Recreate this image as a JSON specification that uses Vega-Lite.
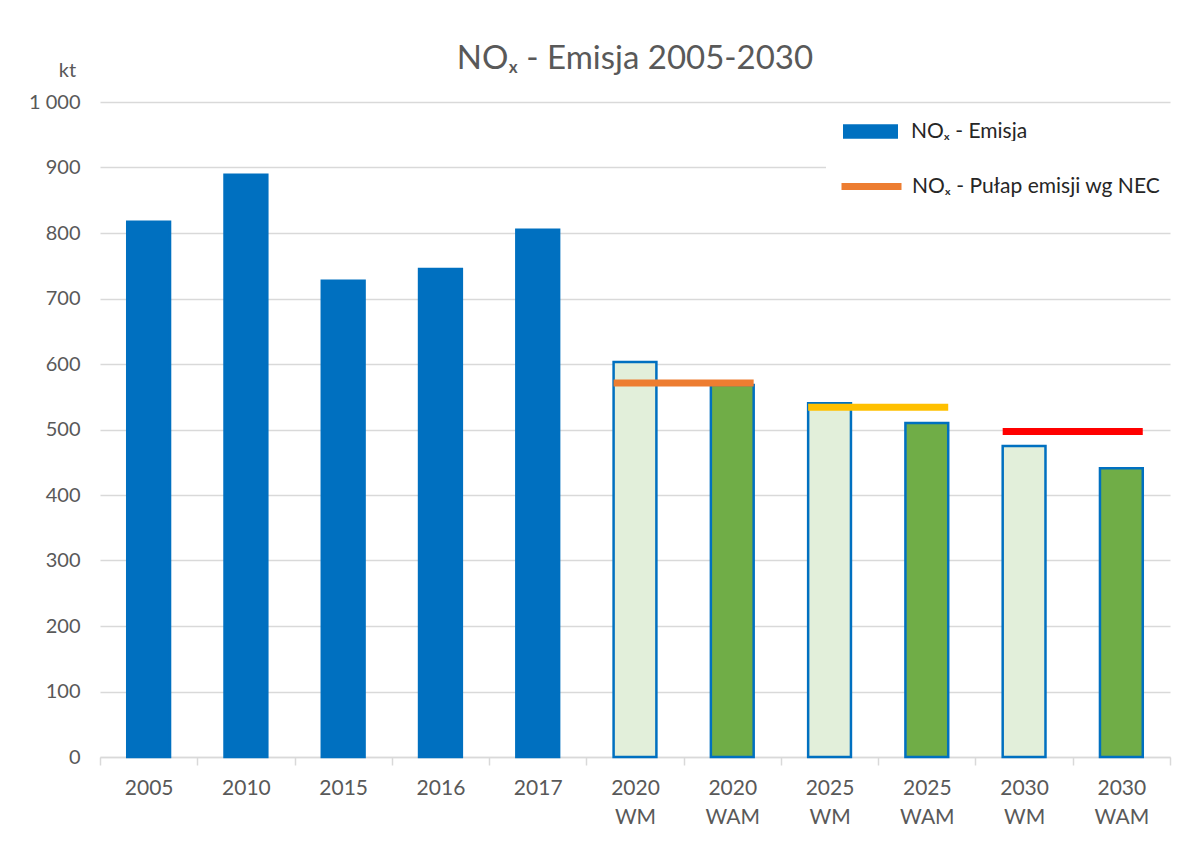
{
  "$schema": "https://vega.github.io/schema/vega-lite/v6.json",
  "width": 1070,
  "height": 655,
  "autosize": {"type": "none"},
  "padding": {"left": 100, "top": 102, "right": 33, "bottom": 88},
  "background": "white",
  "config": {
    "view": {"stroke": null},
    "font": "Lato"
  },
  "title": {
    "text": "NOₓ - Emisja 2005-2030",
    "fontSize": 33,
    "font": "Lato",
    "fontWeight": "normal",
    "color": "#595959",
    "anchor": "middle",
    "baseline": "alphabetic",
    "offset": 30,
    "dy": 72
  },
  "datasets": {
    "emisja": [
      {"kat": "2005", "typ": "NOₓ - Emisja", "emisja": 817},
      {"kat": "2010", "typ": "NOₓ - Emisja", "emisja": 889},
      {"kat": "2015", "typ": "NOₓ - Emisja", "emisja": 727},
      {"kat": "2016", "typ": "NOₓ - Emisja", "emisja": 745},
      {"kat": "2017", "typ": "NOₓ - Emisja", "emisja": 805},
      {"kat": "2020 WM", "typ": "WM", "emisja": 603},
      {"kat": "2020 WAM", "typ": "WAM", "emisja": 568},
      {"kat": "2025 WM", "typ": "WM", "emisja": 540},
      {"kat": "2025 WAM", "typ": "WAM", "emisja": 510},
      {"kat": "2030 WM", "typ": "WM", "emisja": 475},
      {"kat": "2030 WAM", "typ": "WAM", "emisja": 441}
    ],
    "pulap": [
      {"start": "2020 WM", "end": "2020 WAM", "pulap": 571, "limit": "NOₓ - Pułap emisji wg NEC"},
      {"start": "2025 WM", "end": "2025 WAM", "pulap": 534, "limit": "2025"},
      {"start": "2030 WM", "end": "2030 WAM", "pulap": 497, "limit": "2030"}
    ]
  },
  "layer": [
    {
      "data": {"name": "emisja"},
      "mark": {"type": "bar", "width": {"band": 0.44}, "stroke": "#0070C0", "strokeWidth": 2.5},
      "encoding": {
        "x": {
          "field": "kat",
          "type": "nominal",
          "sort": null,
          "scale": {
            "domain": ["2005", "2010", "2015", "2016", "2017", "2020 WM", "2020 WAM", "2025 WM", "2025 WAM", "2030 WM", "2030 WAM"],
            "paddingInner": 0,
            "paddingOuter": 0
          },
          "axis": {
            "title": null,
            "labelAngle": 0,
            "labelExpr": "split(datum.label, ' ')",
            "labelFontSize": 21,
            "labelColor": "#595959",
            "labelPadding": 12,
            "labelLineHeight": 29,
            "labelBaseline": "top",
            "domainColor": "#D9D9D9",
            "domainWidth": 1.5,
            "tickColor": "#D9D9D9",
            "tickWidth": 1.5,
            "tickSize": 8,
            "tickBand": "extent",
            "grid": false
          }
        },
        "y": {
          "field": "emisja",
          "type": "quantitative",
          "scale": {"domain": [0, 1000], "nice": false},
          "axis": {
            "values": [0, 100, 200, 300, 400, 500, 600, 700, 800, 900, 1000],
            "labelExpr": "replace(format(datum.value, ',d'), ',', ' ')",
            "labelFontSize": 20,
            "labelColor": "#595959",
            "labelPadding": 20,
            "domain": false,
            "ticks": false,
            "grid": true,
            "gridColor": "#D9D9D9",
            "gridWidth": 1.5,
            "title": "kt",
            "titleAngle": 0,
            "titleX": -33,
            "titleY": -26,
            "titleAlign": "center",
            "titleBaseline": "alphabetic",
            "titleFontSize": 20,
            "titleFontWeight": "normal",
            "titleColor": "#595959"
          }
        },
        "fill": {
          "field": "typ",
          "type": "nominal",
          "scale": {
            "domain": ["NOₓ - Emisja", "WM", "WAM"],
            "range": ["#0070C0", "#E2EFDA", "#70AD47"]
          },
          "legend": {
            "title": null,
            "values": ["NOₓ - Emisja"],
            "orient": "none",
            "legendX": 743,
            "legendY": 2,
            "padding": 0,
            "fillColor": "white",
            "symbolType": "M-1,-0.26L1,-0.26L1,0.26L-1,0.26Z",
            "symbolSize": 3025,
            "symbolStrokeWidth": 0,
            "labelFontSize": 21,
            "labelColor": "#262626",
            "labelOffset": 13,
            "labelLimit": 400,
            "labelFont": "Lato"
          }
        }
      }
    },
    {
      "data": {"name": "pulap"},
      "mark": {"type": "rule", "strokeWidth": 7, "strokeCap": "butt"},
      "encoding": {
        "x": {"field": "start", "type": "nominal", "bandPosition": 0.28},
        "x2": {"field": "end", "bandPosition": 0.72},
        "y": {"field": "pulap", "type": "quantitative"},
        "stroke": {
          "field": "limit",
          "type": "nominal",
          "scale": {
            "domain": ["NOₓ - Pułap emisji wg NEC", "2025", "2030"],
            "range": ["#ED7D31", "#FFC000", "#FF0000"]
          },
          "legend": {
            "title": null,
            "values": ["NOₓ - Pułap emisji wg NEC"],
            "orient": "none",
            "legendX": 726,
            "legendY": 39,
            "padding": 12,
            "fillColor": "white",
            "symbolType": "stroke",
            "symbolSize": 3600,
            "symbolStrokeWidth": 7,
            "labelFontSize": 21,
            "labelColor": "#262626",
            "labelOffset": 7,
            "labelLimit": 400,
            "labelFont": "Lato"
          }
        }
      }
    }
  ]
}
